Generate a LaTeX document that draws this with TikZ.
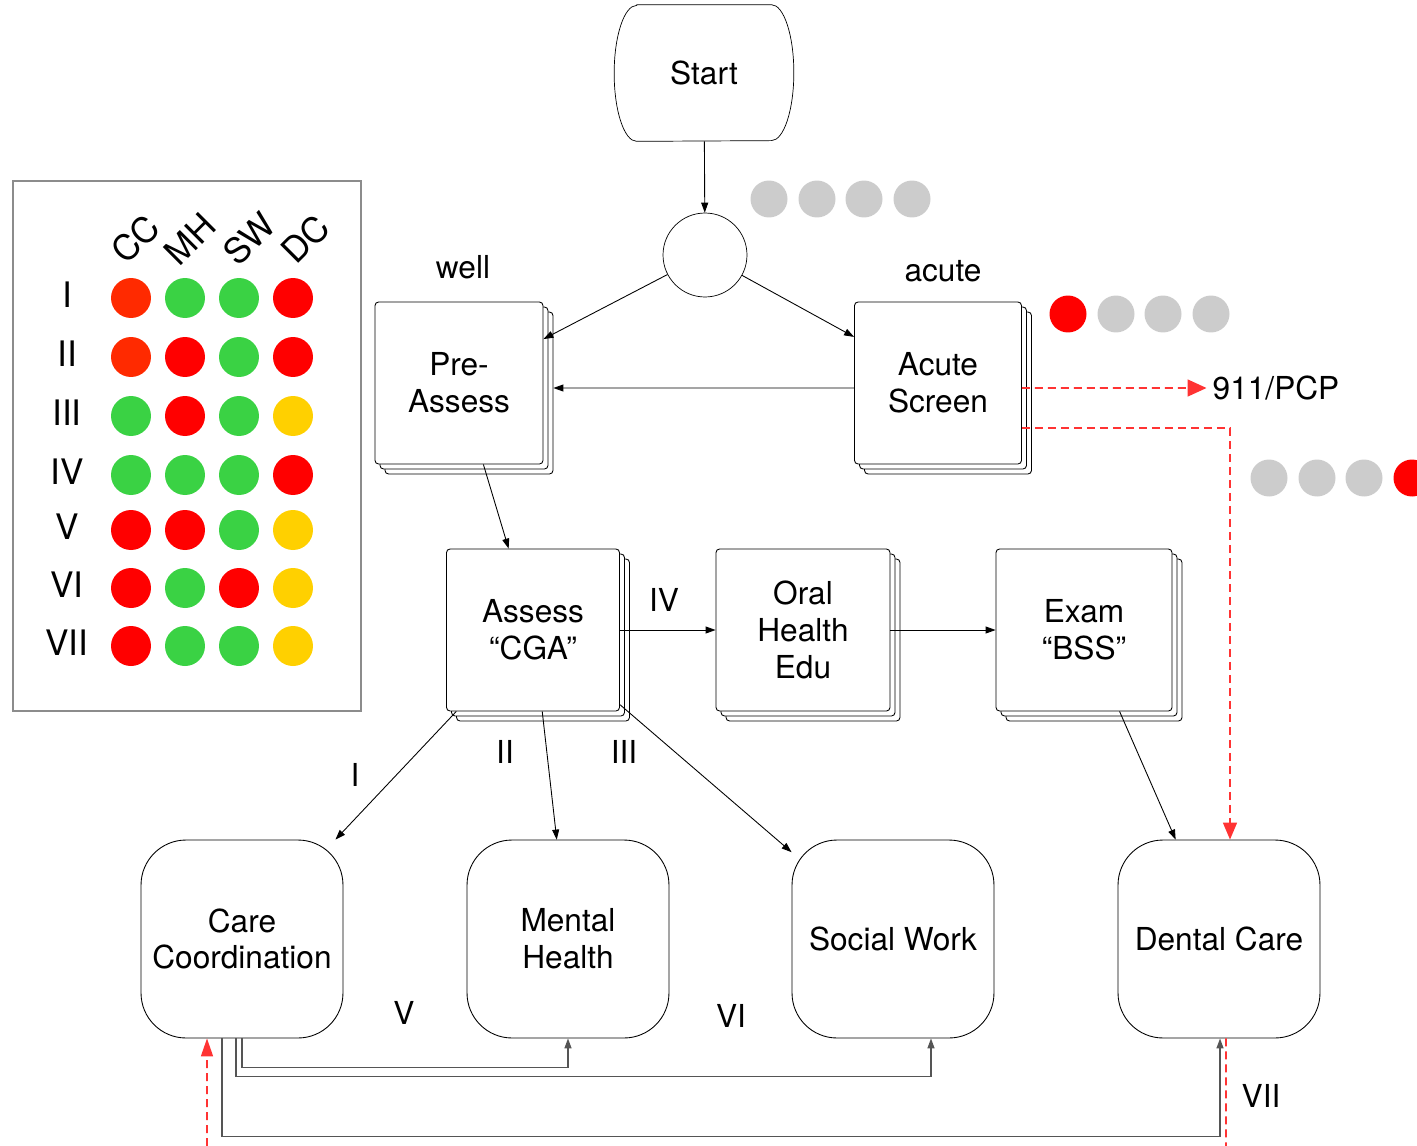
\documentclass[tikz,border=0pt]{standalone}
\usepackage{fontspec}
\setmainfont{TeX Gyre Heros}
\usetikzlibrary{arrows.meta,shadows,calc}
\definecolor{dotgray}{RGB}{204,204,204}
\definecolor{dotred}{RGB}{255,0,0}
\definecolor{dotorange}{RGB}{255,42,0}
\definecolor{dotgreen}{RGB}{58,210,68}
\definecolor{dotyellow}{RGB}{255,208,0}
\definecolor{alertred}{RGB}{255,51,51}
\definecolor{framegray}{RGB}{140,140,140}
\definecolor{linkgray}{RGB}{85,85,85}

\begin{document}
\begin{tikzpicture}[x=0.02cm,y=-0.02cm,
    every node/.style={font=\fontsize{18}{21}\selectfont},
    key/.style={font=\fontsize{20}{24}\selectfont,inner sep=0pt},
    stack/.style={rectangle,draw,fill=white,rounded corners=2pt,align=center,minimum height=3.24cm,line width=0.5pt,
      double copy shadow={shadow xshift=0.1cm,shadow yshift=-0.1cm}},
    service/.style={rectangle,draw,rounded corners=0.9cm,align=center,minimum width=4.04cm,minimum height=3.96cm,line width=0.5pt},
    flow/.style={-{Triangle[length=0.2cm,width=0.14cm]},line width=0.5pt},
    link/.style={flow,draw=linkgray,line width=0.8pt},
    alert/.style={draw=alertred,line width=0.9pt,dash pattern=on 0.16cm off 0.1cm}]
    \clip (0,0) rectangle (1417,1146);

    % Legend
    \node[draw=framegray,line width=1.1pt,minimum width=6.96cm,minimum height=10.6cm] (legend) at (187,446) {};
    \foreach \hd/\xx in {CC/135,MH/190,SW/249,DC/305}
        \node[key,rotate=45] (head\hd) at (\xx,239) {\hd};
    \foreach \rw/\yy/\ca/\cb/\cc/\cd [count=\i] in {
        I/298/dotorange/dotgreen/dotgreen/dotred,
        II/357/dotorange/dotred/dotgreen/dotred,
        III/416/dotgreen/dotred/dotgreen/dotyellow,
        IV/475/dotgreen/dotgreen/dotgreen/dotred,
        V/530/dotred/dotred/dotgreen/dotyellow,
        VI/588/dotred/dotgreen/dotred/dotyellow,
        VII/646/dotred/dotgreen/dotgreen/dotyellow}{
        \node[key] (row\i) at (67,\yy-3) {\rw};
        \fill[\ca] (131,\yy) circle (0.4cm);
        \fill[\cb] (185,\yy) circle (0.4cm);
        \fill[\cc] (239,\yy) circle (0.4cm);
        \fill[\cd] (293,\yy) circle (0.4cm);
    }

    % Flow
    \node[minimum width=3.58cm,minimum height=2.72cm] (start) at (704,73) {Start};
    \draw ([xshift=0.45cm]start.north west) -- ([xshift=-0.45cm]start.north east)
        arc[start angle=90,end angle=-90,x radius=0.45cm,y radius=1.36cm]
        -- ([xshift=0.45cm]start.south west)
        arc[start angle=270,end angle=90,x radius=0.45cm,y radius=1.36cm] -- cycle;
    \node[draw,circle,minimum size=1.68cm] (hub) at (705,255) {};
    \node[stack,minimum width=3.36cm] (pre) at (459,383) {Pre-\\Assess};
    \node[stack,minimum width=3.34cm] (acute) at (938,383) {Acute\\Screen};
    \node[stack,minimum width=3.46cm] (cga) at (533,630) {Assess\\“CGA”};
    \node[stack,minimum width=3.48cm] (oral) at (803,630) {Oral\\Health\\Edu};
    \node[stack,minimum width=3.52cm] (exam) at (1084,630) {Exam\\“BSS”};
    \node[service] (cc) at (242,939) {Care\\Coordination};
    \node[service] (mh) at (568,939) {Mental\\Health};
    \node[service] (sw) at (893,939) {Social Work};
    \node[service] (dc) at (1219,939) {Dental Care};

    % Labels
    \node (well) at (463,267) {well};
    \node (acutetag) at (943,271) {acute};
    \node (pcp) at (1276,388) {911/PCP};
    \node (tagIV) at (664,600) {IV};
    \node (tagI) at (355,775) {I};
    \node (tagII) at (505,752) {II};
    \node (tagIII) at (624,752) {III};
    \node (tagV) at (404,1013) {V};
    \node (tagVI) at (731,1016) {VI};
    \node (tagVII) at (1261,1096) {VII};

    % Status dots
    \foreach \xx in {769,817,864,912}
        \fill[dotgray] (\xx,199) circle (0.37cm);
    \foreach \xx/\cl in {1068/dotred,1116/dotgray,1163/dotgray,1211/dotgray}
        \fill[\cl] (\xx,314) circle (0.37cm);
    \foreach \xx/\cl in {1269/dotgray,1317/dotgray,1364/dotgray,1412/dotred}
        \fill[\cl] (\xx,478) circle (0.37cm);

    \draw[flow] (start) -- (hub);
    \draw[flow] (hub) -- (pre);
    \draw[flow] (hub) -- (acute);
    \draw[flow] ([yshift=-0.1cm]acute.west) -- ($(pre.east)+(10,5)$);
    \draw[flow] (pre) -- (cga);
    \draw[flow] (cga) -- (oral);
    \draw[flow] (oral) -- (exam);
    \draw[flow] (exam) -- (dc);
    \draw[flow] (cga) -- (cc);
    \draw[flow] (cga) -- (mh);
    \draw[flow] (cga) -- (sw);

    % Referrals
    \draw[link] (cc.south) -- ++(0,29) -| (mh.south);
    \draw[link] ([xshift=-0.12cm]cc.south) -- ++(0,38) -| ([xshift=0.76cm]sw.south);
    \draw[link] ([xshift=-0.4cm]cc.south) -- ++(0,98) -| ([xshift=0.02cm]dc.south);

    % Urgent paths
    \draw[alert,-{Triangle[length=0.38cm,width=0.34cm]}] ([yshift=-0.1cm]acute.east) -- (pcp.west);
    \draw[alert,-{Triangle[length=0.34cm,width=0.28cm]}] ([yshift=-0.9cm]acute.east) -| ([xshift=0.22cm]dc.north);
    \coordinate (feedin) at (207,1146);
    \coordinate (feedout) at (1226,1146);
    \draw[alert,-{Triangle[length=0.36cm,width=0.24cm]}] (feedin) -- ([xshift=-0.7cm]cc.south);
    \draw[alert] ([xshift=0.14cm]dc.south) -- (feedout);
\end{tikzpicture}
\end{document}
